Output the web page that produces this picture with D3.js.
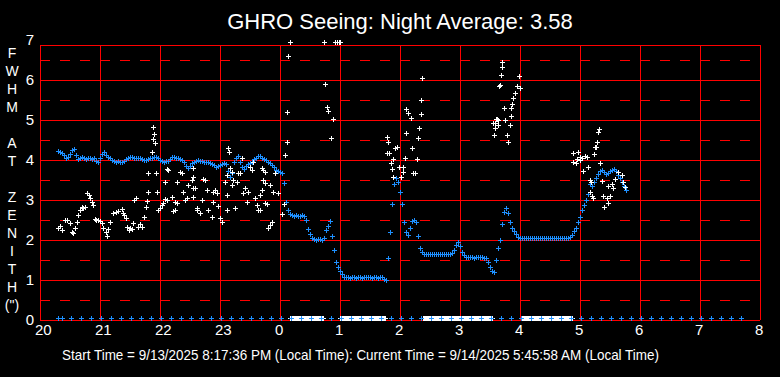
<!DOCTYPE html>
<html>
<head>
<meta charset="utf-8">
<title>GHRO Seeing</title>
<script src="https://cdn.jsdelivr.net/npm/d3@7"></script>
<style>
  body { margin: 0; background: #000; }
  svg { display: block; }
  text { font-family: "Liberation Sans", Arial, sans-serif; fill: #fff; }
</style>
</head>
<body>
<svg id="chart" width="780" height="377"></svg>
<script>
// times are minutes after 20:00 local time
const hourLabels = [20, 21, 22, 23, 0, 1, 2, 3, 4, 5, 6, 7, 8]
const fwhmTicks = [0, 1, 2, 3, 4, 5, 6, 7]
const yTitleRows = ["F", "W", "H", "M", "", "A", "T", "", "Z", "E", "N", "I", "T", "H", "(\")"]
const titleText = "GHRO Seeing: Night Average: 3.58"
const footText = "Start Time = 9/13/2025 8:17:36 PM (Local Time): Current Time = 9/14/2025 5:45:58 AM (Local Time)"

// blue series, one reading every 2 minutes from 20:18
const blueStart = 18, blueStep = 2
const blueFwhm = [
  4.22, 4.2, 4.18, 4.12, 4.06, 4.08, 4.16, 4.25, 4.28, 4.12,
  4.02, 4.05, 4.07, 4.05, 4.03, 4.06, 4.05, 4.02, 4.04, 3.97,
  3.95, 4.05, 4.15, 4.2, 4.12, 4.08, 4.05, 4.0, 3.97, 3.95,
  3.97, 3.95, 3.94, 3.97, 4.02, 4.06, 4.08, 4.07, 4.05, 4.06,
  4.04, 4.05, 4.03, 4.0, 4.0, 4.02, 4.05, 4.06, 4.07, 4.08,
  4.05, 4.0, 3.97, 3.95, 3.97, 3.98, 4.03, 4.07, 4.08, 4.06,
  4.04, 4.02, 4.0, 3.95, 3.85, 3.8, 3.85, 3.93, 3.95, 3.97,
  4.0, 3.98, 3.97, 3.95, 3.95, 3.95, 3.92, 3.9, 3.87, 3.83,
  3.84, 3.87, 3.9, 3.92, 3.9, 3.72, 3.58, 3.68, 3.95, 4.05,
  4.1, 3.95, 3.82, 3.78, 3.85, 3.9, 3.92, 3.95, 4.02, 4.06,
  4.1, 4.1, 4.05, 4.03, 4.0, 3.95, 3.92, 3.88, 3.82, 3.75,
  3.72, 3.7, 3.67, 3.42, 2.95, 2.75, 2.65, 2.62, 2.6, 2.62,
  2.6, 2.6, 2.62, 2.6, 2.5, 2.28, 2.15, 2.05, 2.02, 2.0,
  2.02, 2.02, 2.0, 2.05, 2.25, 2.35, 2.48, 2.1, 1.75, 1.45,
  1.33, 1.22, 1.15, 1.08, 1.07, 1.07, 1.06, 1.07, 1.07, 1.05,
  1.07, 1.07, 1.06, 1.07, 1.07, 1.08, 1.07, 1.06, 1.07, 1.07,
  1.06, 1.07, 1.07, 1.03, 1.0, 1.55, 2.2, 2.9, 3.4, 3.55,
  3.45, 3.2, 2.9, 2.45, 2.2, 2.12, 2.3, 2.47, 2.5, 2.45,
  2.1, 1.8, 1.7, 1.65, 1.65, 1.66, 1.65, 1.65, 1.64, 1.65,
  1.65, 1.65, 1.66, 1.65, 1.65, 1.65, 1.65, 1.68, 1.75, 1.88,
  1.95, 1.85, 1.7, 1.62, 1.58, 1.57, 1.57, 1.57, 1.56, 1.57,
  1.57, 1.57, 1.57, 1.56, 1.55, 1.45, 1.32, 1.22, 1.2, 1.5,
  1.8, 2.0, 2.4, 2.7, 2.8, 2.68, 2.45, 2.3, 2.22, 2.15,
  2.08, 2.05, 2.05, 2.05, 2.06, 2.05, 2.05, 2.05, 2.04, 2.05,
  2.05, 2.05, 2.05, 2.06, 2.05, 2.05, 2.05, 2.05, 2.05, 2.04,
  2.05, 2.05, 2.05, 2.05, 2.05, 2.05, 2.07, 2.12, 2.22, 2.3,
  2.45, 2.58, 2.75, 2.88, 3.0, 3.15, 3.4, 3.35, 3.45, 3.55,
  3.65, 3.72, 3.75, 3.7, 3.65, 3.68, 3.72, 3.75, 3.78, 3.72,
  3.62, 3.55, 3.45, 3.35, 3.25
]

// white series: [minute, fwhm]
const whitePoints = [
  [18, 2.3], [20, 2.35], [22, 2.25], [25, 2.5], [27, 2.5], [30, 2.42], [32, 2.2], [33, 2.17], [35, 2.3], [37, 2.45],
  [38, 2.62], [40, 2.75], [42, 2.83], [43, 2.8], [45, 2.82], [47, 3.17], [49, 3.12], [50, 3.05], [52, 2.95], [53, 2.88],
  [55, 2.52], [56, 2.5], [58, 2.5], [60, 2.47], [62, 2.42], [63, 2.3], [66, 2.2], [67, 2.1], [68, 2.28], [70, 2.45],
  [73, 2.67], [76, 2.7], [78, 2.72], [82, 2.77], [83, 2.67], [84, 2.62], [86, 2.55], [87, 2.33], [89, 2.25], [90, 2.3],
  [92, 2.28], [93, 2.42], [94, 3.0], [96, 3.05], [98, 2.33], [100, 2.4], [102, 2.33], [104, 2.58], [106, 2.83], [107, 2.98],
  [108, 3.2], [108, 3.67], [112, 4.2], [113, 4.82], [114, 4.65], [113, 4.52], [115, 4.42], [116, 3.67], [117, 3.2], [118, 2.75],
  [120, 2.8], [122, 2.88], [123, 2.92], [125, 3.45], [125, 3.02], [127, 3.77], [127, 3.0], [128, 3.75], [132, 3.08], [133, 2.72],
  [135, 2.95], [135, 2.75], [137, 3.45], [137, 2.92], [140, 3.7], [142, 3.67], [143, 3.2], [145, 3.0], [147, 3.05], [148, 3.37],
  [152, 3.5], [153, 3.8], [153, 3.57], [153, 3.3], [153, 3.08], [155, 3.3], [157, 2.8], [157, 2.75], [160, 2.67], [162, 3.0],
  [163, 3.52], [165, 3.5], [167, 3.25], [168, 2.75], [172, 2.58], [173, 2.95], [173, 3.2], [175, 3.25], [177, 3.17], [178, 2.85],
  [180, 2.55], [182, 2.45], [185, 3.45], [187, 3.62], [187, 3.12], [187, 2.75], [188, 4.3], [189, 4.2], [190, 3.8], [192, 3.7],
  [192, 3.37], [193, 3.5], [195, 2.8], [197, 3.45], [198, 3.67], [200, 3.67], [202, 4.05], [203, 3.17], [205, 3.3], [207, 2.95],
  [208, 3.2], [210, 3.83], [212, 3.75], [213, 3.95], [215, 3.05], [217, 2.88], [218, 2.75], [220, 3.12], [220, 2.75], [222, 3.8],
  [222, 3.25], [223, 3.5], [223, 3.75], [225, 3.7], [225, 3.42], [225, 2.92], [227, 2.9], [228, 2.3], [230, 3.37], [230, 2.38],
  [232, 2.45], [233, 3.2], [235, 3.67], [238, 3.17], [242, 2.65], [244, 2.9], [245, 4.12], [247, 4.45], [247, 5.2], [248, 6.6],
  [250, 6.94], [284, 6.94], [285, 5.9], [287, 5.32], [288, 5.22], [291, 4.55], [293, 5.02], [295, 6.94], [297, 6.94], [299, 6.94],
  [300, 6.94], [347, 4.57], [348, 4.45], [347, 4.17], [349, 4.17], [351, 3.92], [352, 3.77], [353, 4.02], [353, 3.57], [355, 4.3],
  [357, 4.33], [359, 3.83], [361, 3.57], [363, 3.83], [363, 3.7], [365, 4.05], [366, 4.67], [366, 5.27], [368, 5.17], [371, 5.05],
  [372, 4.3], [373, 3.67], [375, 3.67], [377, 4.02], [378, 4.55], [379, 4.8], [381, 5.15], [381, 5.5], [382, 6.05],
  [453, 4.92], [454, 4.62], [455, 4.8], [455, 4.92], [456, 5.02], [457, 5.02], [458, 4.87], [458, 5.0], [459, 5.85], [460, 5.87],
  [461, 6.12], [462, 6.45], [462, 6.33], [464, 5.3], [465, 5.0], [467, 4.62], [468, 4.45], [470, 4.87], [471, 5.3], [471, 5.1],
  [472, 5.4], [473, 5.55], [475, 5.67], [477, 5.85], [479, 6.1], [480, 5.8],
  [533, 4.17], [533, 3.95], [536, 3.92], [537, 4.02], [538, 4.2], [540, 4.07], [540, 4.0], [542, 4.05], [543, 3.72], [545, 4.1],
  [547, 4.07], [548, 3.83], [550, 3.5], [550, 3.2], [551, 3.45], [552, 3.1], [553, 3.05], [554, 4.15], [555, 4.33], [556, 4.33],
  [557, 4.45], [558, 4.7], [559, 4.77], [560, 3.92], [562, 3.47], [563, 3.1], [564, 2.83], [567, 3.05], [568, 2.92], [568, 3.35],
  [570, 3.1], [572, 3.4], [573, 3.3], [575, 3.52], [578, 3.7], [582, 3.62], [583, 3.45], [585, 3.32]
]

// stretches where the white series reads zero: [first minute, last minute]
const whiteZeroRuns = [[250, 283], [300, 345], [383, 452], [482, 532]]
// blue zero readings along the bottom
const blueZeroMinutes = [18, 22, 31, 41, 51, 61, 71, 81, 91, 101, 111, 121, 131, 141, 151, 161, 171, 181, 191,
  201, 211, 221, 231, 241, 251, 261, 271, 281, 291, 301, 311, 321, 331, 341, 351, 361, 371, 381, 391,
  401, 411, 421, 431, 441, 451, 461, 471, 481, 491, 501, 511, 521, 531, 541, 551, 561, 571, 581, 591,
  601, 611, 621, 631, 641, 651, 661, 671, 681, 691, 701]
const zeroLevel = 0.05

const blueColor = "#1e90ff"
const gridColor = "#ff0000"

const svg = d3.select("#chart")
svg.append("rect").attr("width", 780).attr("height", 377).attr("fill", "#000")

const x = d3.scaleLinear().domain([0, 720]).range([40, 760])
const y = d3.scaleLinear().domain([0, 7]).range([320, 40])
const frameTop = y(7) + 5

// grid
let grid = svg.append("g").attr("shape-rendering", "crispEdges").attr("stroke", gridColor)
grid.selectAll("line.v").data(hourLabels).enter().append("line")
  .attr("x1", (d, i) => x(i * 60)).attr("x2", (d, i) => x(i * 60))
  .attr("y1", frameTop).attr("y2", y(0))
grid.selectAll("line.h").data(fwhmTicks.slice(0, 7)).enter().append("line")
  .attr("x1", x(0)).attr("x2", x(720))
  .attr("y1", d => y(d)).attr("y2", d => y(d))
grid.append("line").attr("x1", x(0)).attr("x2", x(720)).attr("y1", frameTop).attr("y2", frameTop)
grid.selectAll("line.d").data(fwhmTicks.slice(0, 7)).enter().append("line")
  .attr("x1", x(0)).attr("x2", x(720))
  .attr("y1", d => y(d + 0.5)).attr("y2", d => y(d + 0.5))
  .attr("stroke-dasharray", "10,10")

// plus-shaped marker
function plus(g, px, py, color) {
  px = Math.round(px); py = Math.round(py)
  g.append("rect").attr("x", px - 2).attr("y", py).attr("width", 5).attr("height", 1).attr("fill", color)
  g.append("rect").attr("x", px).attr("y", py - 2).attr("width", 1).attr("height", 5).attr("fill", color)
}

let marks = svg.append("g").attr("shape-rendering", "crispEdges")
blueFwhm.forEach((v, i) => plus(marks, x(blueStart + i * blueStep), y(v), blueColor))
whitePoints.forEach(d => plus(marks, x(d[0]), y(d[1]), "#fff"))
whiteZeroRuns.forEach(r => {
  for (let m = r[0]; m <= r[1]; m += 1) plus(marks, x(m), y(zeroLevel), "#fff")
})
blueZeroMinutes.forEach(m => plus(marks, x(m), y(zeroLevel), blueColor))

// axis labels
svg.append("g").selectAll("text").data(fwhmTicks).enter().append("text")
  .attr("x", 34).attr("y", d => y(d)).attr("dy", "0.36em")
  .attr("text-anchor", "end").attr("font-size", 15).text(d => d)

// hour labels sit just right of their grid line, as in the original
svg.append("g").selectAll("text").data(hourLabels).enter().append("text")
  .attr("x", (d, i) => x(i * 60) - 5).attr("y", 335)
  .attr("font-size", 15).text(d => d)

svg.append("g").selectAll("text").data(yTitleRows).enter().append("text")
  .attr("x", 12).attr("y", (d, i) => 58 + i * 18)
  .attr("text-anchor", "middle").attr("font-size", 14).text(d => d)

svg.append("text").attr("x", 400).attr("y", 29).attr("text-anchor", "middle")
  .attr("font-size", 22).text(titleText)

svg.append("text").attr("x", 62).attr("y", 360)
  .attr("font-family", "'Liberation Sans Narrow', 'Arial Narrow', sans-serif")
  .attr("font-size", 15).attr("textLength", 597).attr("lengthAdjust", "spacingAndGlyphs")
  .text(footText)
</script>
</body>
</html>
